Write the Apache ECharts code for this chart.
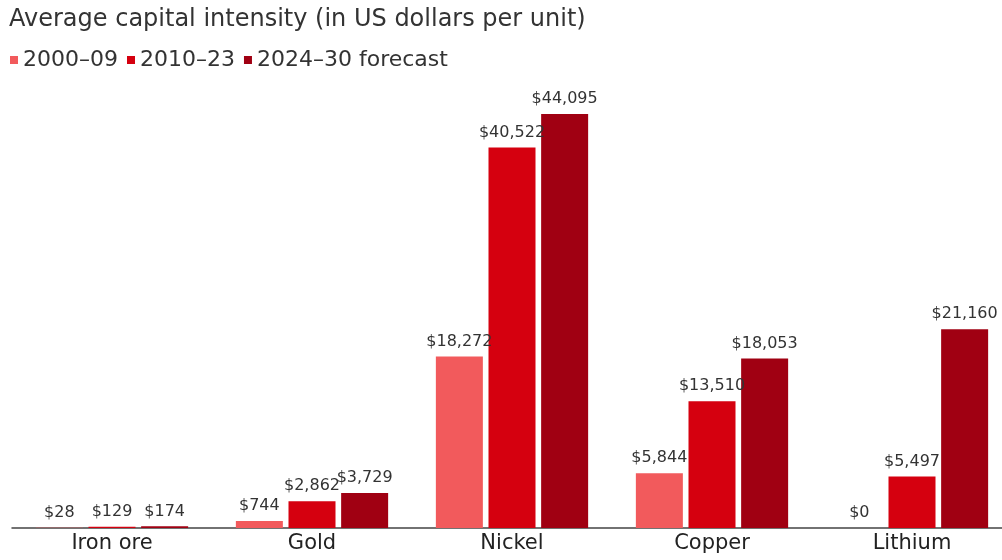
<!DOCTYPE html>
<html>
<head>
<meta charset="utf-8">
<script src="https://cdn.jsdelivr.net/npm/echarts@6/dist/echarts.min.js"></script>
<style>
  html, body { margin: 0; padding: 0; background: #fff; }
  #chart { width: 1002px; height: 560px; }
</style>
</head>
<body>
<div id="chart"></div>
<script>
// Average capital intensity by commodity, US dollars per unit
const categories = ['Iron ore', 'Gold', 'Nickel', 'Copper', 'Lithium'];
const seriesNames = ['2000–09', '2010–23', '2024–30 forecast'];
const values2000_09 = [28, 744, 18272, 5844, 0];
const values2010_23 = [129, 2862, 40522, 13510, 5497];
const values2024_30 = [174, 3729, 44095, 18053, 21160];
const colors = ['#f25a5c', '#d5000f', '#a00012'];

const FONT = '"DejaVu Sans", sans-serif';
const fmt = p => '$' + Number(p.value).toLocaleString('en-US');

function bar(name, data, color) {
  return {
    name: name,
    type: 'bar',
    data: data,
    barWidth: 47,
    barGap: '12%',
    itemStyle: { color: color },
    label: {
      show: true,
      position: 'top',
      distance: 7,
      formatter: fmt,
      color: '#333',
      fontFamily: FONT,
      fontSize: 16
    }
  };
}

const chart = echarts.init(document.getElementById('chart'), null, { renderer: 'canvas' });
chart.setOption({
  animation: false,
  color: colors,
  title: {
    text: 'Average capital intensity (in US dollars per unit)',
    left: 4,
    top: 3,
    textStyle: { fontFamily: FONT, fontSize: 24, fontWeight: 'normal', color: '#333' }
  },
  legend: {
    left: 5,
    top: 44,
    icon: 'rect',
    itemWidth: 8,
    itemHeight: 8,
    itemGap: 9,
    textStyle: { fontFamily: FONT, fontSize: 22, color: '#333', padding: [0, 0, 0, 0] }
  },
  grid: { left: 12, width: 1000, top: 114, bottom: 32, outerBoundsMode: 'none' },
  xAxis: {
    type: 'category',
    data: categories,
    axisLine: { lineStyle: { color: '#444', width: 1.5 } },
    axisTick: { show: false },
    axisLabel: { fontFamily: FONT, fontSize: 21, color: '#222', margin: 5 }
  },
  yAxis: {
    type: 'value',
    min: 0,
    max: 44095,
    show: false
  },
  series: [
    bar(seriesNames[0], values2000_09, colors[0]),
    bar(seriesNames[1], values2010_23, colors[1]),
    bar(seriesNames[2], values2024_30, colors[2])
  ]
});
</script>
</body>
</html>
